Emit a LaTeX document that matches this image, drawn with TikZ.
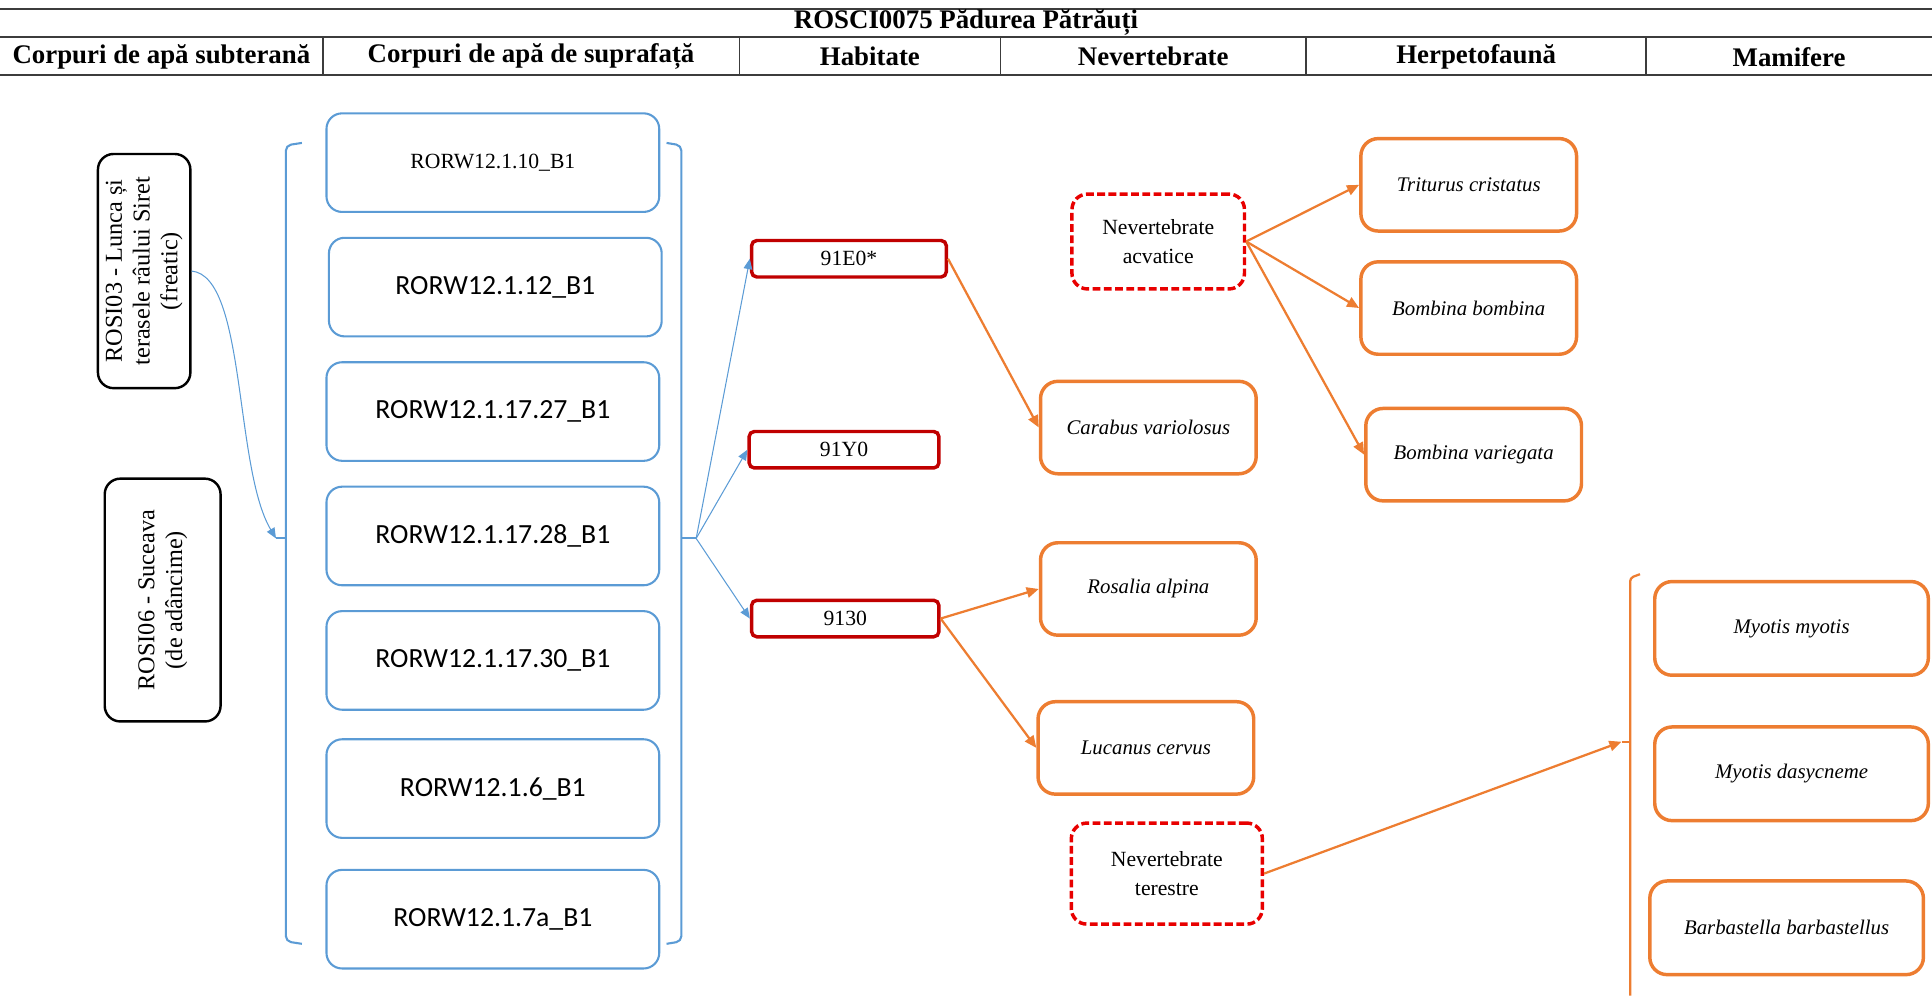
\documentclass[tikz,border=0pt]{standalone}
\usepackage{fontspec}
\setmainfont{Liberation Serif}
\newfontfamily\calibrifont{Carlito}
\usetikzlibrary{arrows.meta}
\definecolor{apablue}{RGB}{91,155,213}
\definecolor{habred}{RGB}{192,0,0}
\definecolor{specorange}{RGB}{237,125,49}
\definecolor{nevred}{RGB}{232,0,0}
\definecolor{hdrgray}{RGB}{60,60,60}

\begin{document}
\begin{tikzpicture}[x=0.025cm,y=-0.025cm]
\tikzstyle{every node}+=[inner sep=0pt]
\tikzstyle{hdr}=[font=\bfseries\fontsize{15.5}{18}\selectfont]
\tikzstyle{rosibox}=[draw=black, line width=1.4pt, rounded corners=9pt, font=\fontsize{14}{16}\selectfont]
\tikzstyle{apabox}=[draw=apablue, line width=1.2pt, rounded corners=9pt, minimum width=6.75cm, minimum height=2cm, font=\calibrifont\fontsize{16}{19}\selectfont]
\tikzstyle{habbox}=[draw=habred, line width=2pt, rounded corners=3pt, minimum height=0.74cm, font=\fontsize{12.5}{15}\selectfont]
\tikzstyle{specbox}=[draw=specorange, line width=2pt, rounded corners=10pt, minimum width=4.375cm, minimum height=1.875cm, font=\itshape\fontsize{12}{14}\selectfont]
\tikzstyle{batbox}=[specbox, minimum width=5.55cm, minimum height=1.9cm]
\tikzstyle{nevbox}=[draw=nevred, line width=2pt, dash pattern=on 4.5pt off 2pt, rounded corners=9pt, align=center, font=\fontsize{12.5}{17}\selectfont]
\tikzstyle{blarr}=[apablue, line width=0.6pt, -{Triangle[length=6pt,width=5pt]}]
\tikzstyle{orarr}=[specorange, line width=1.3pt, -{Triangle[length=7pt,width=6pt]}]
\useasboundingbox (0,0) rectangle (1568,808);

\draw [hdrgray, line width=1.2pt] (0,7) -- (1568,7);
\draw [hdrgray, line width=1.2pt] (0,30) -- (1568,30);
\draw [hdrgray, line width=1.2pt] (0,61) -- (1568,61);
\draw [hdrgray, line width=0.8pt] (262,30) -- (262,61);
\draw [hdrgray, line width=0.8pt] (600,30) -- (600,61);
\draw [hdrgray, line width=0.8pt] (812,30) -- (812,61);
\draw [hdrgray, line width=0.8pt] (1060,30) -- (1060,61);
\draw [hdrgray, line width=0.8pt] (1336,30) -- (1336,61);
\node (titlu) [hdr] at (784,18) {ROSCI0075 Pădurea Pătrăuți};
\node (hsubt) [hdr] at (131,46) {Corpuri de apă subterană};
\node (hsupr) [hdr] at (431,46) {Corpuri de apă de suprafață};
\node (hhab) [hdr] at (706,46) {Habitate};
\node (hnev) [hdr] at (936,46) {Nevertebrate};
\node (hherp) [hdr] at (1198,46) {Herpetofaună};
\node (hmam) [hdr] at (1452,46) {Mamifere};

\node (rosi03) [rosibox, minimum width=1.875cm, minimum height=4.75cm] at (117,220) {\rotatebox{90}{\begin{tabular}{@{}c@{}}ROSI03 - Lunca și\\terasele râului Siret\\(freatic)\end{tabular}}};
\node (rosi06) [rosibox, minimum width=2.35cm, minimum height=4.925cm] at (132,487) {\rotatebox{90}{\begin{tabular}{@{}c@{}}ROSI06 - Suceava\\(de adâncime)\end{tabular}}};

\node (rw10) [apabox, font=\fontsize{12.5}{15}\selectfont] at (400,132) {RORW12.1.10\_B1};
\node (rw12) [apabox] at (402,233) {RORW12.1.12\_B1};
\node (rw27) [apabox] at (400,334) {RORW12.1.17.27\_B1};
\node (rw28) [apabox] at (400,435) {RORW12.1.17.28\_B1};
\node (rw30) [apabox] at (400,536) {RORW12.1.17.30\_B1};
\node (rw6) [apabox] at (400,640) {RORW12.1.6\_B1};
\node (rw7a) [apabox] at (400,746) {RORW12.1.7a\_B1};

\draw [apablue, line width=1.2pt, rounded corners=3pt] (245,116) -- (232,118) -- (232,764) -- (245,766);
\draw [apablue, line width=1.2pt] (232,437) -- (224,437);
\coordinate (stubL) at (224,437);
\draw [apablue, line width=1.2pt, rounded corners=3pt] (541,116) -- (553,118) -- (553,764) -- (541,766);
\draw [apablue, line width=1.2pt] (553,437) -- (565,437);
\coordinate (stubR) at (565,437);

\node (h91E0) [habbox, minimum width=3.95cm] at (689,210) {91E0*};
\node (h91Y0) [habbox, minimum width=3.85cm] at (685,365) {91Y0};
\node (h9130) [habbox, minimum width=3.8cm] at (686,502) {9130};

\node (carabus) [specbox] at (932,347) {Carabus variolosus};
\node (rosalia) [specbox] at (932,478) {Rosalia alpina};
\node (lucanus) [specbox] at (930,607) {Lucanus cervus};
\node (acvatice) [nevbox, minimum width=3.5cm, minimum height=1.925cm] at (940,196) {Nevertebrate\\acvatice};
\node (terestre) [nevbox, minimum width=3.875cm, minimum height=2.05cm] at (947,709) {Nevertebrate\\terestre};

\node (triturus) [specbox] at (1192,150) {Triturus cristatus};
\node (bombina) [specbox] at (1192,250) {Bombina bombina};
\node (variegata) [specbox] at (1196,369) {Bombina variegata};

\node (mmyotis) [batbox] at (1454,510) {Myotis myotis};
\node (mdasy) [batbox] at (1454,628) {Myotis dasycneme};
\node (barba) [batbox] at (1450,753) {Barbastella barbastellus};
\draw [specorange, line width=1.3pt, rounded corners=2pt] (1331,466) -- (1323,469) -- (1323,808);
\draw [specorange, line width=1.3pt] (1323,602) -- (1316,602);
\coordinate (stubO) at (1316,602);

\draw [blarr] (rosi03.east) .. controls (200,224) and (190,380) .. (stubL);
\draw [blarr] (stubR) -- (h91E0.west);
\draw [blarr] (stubR) -- (h91Y0.west);
\draw [blarr] (stubR) -- (h9130.west);
\draw [orarr] (h91E0.east) -- (carabus.west);
\draw [orarr] (h9130.east) -- (rosalia.west);
\draw [orarr] (h9130.east) -- (lucanus.west);
\draw [orarr] (acvatice.east) -- (triturus.west);
\draw [orarr] (acvatice.east) -- (bombina.west);
\draw [orarr] (acvatice.east) -- (variegata.west);
\draw [orarr] (terestre.east) -- (stubO);
\end{tikzpicture}
\end{document}
